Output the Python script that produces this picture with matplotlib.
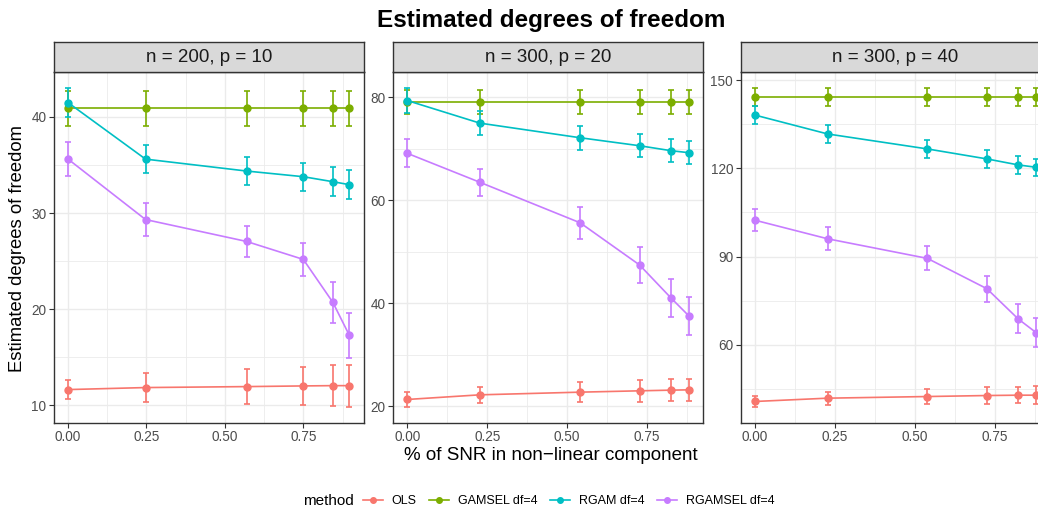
import numpy as np
import matplotlib
matplotlib.use('Agg')
import matplotlib.pyplot as plt
from matplotlib.lines import Line2D
from matplotlib.ticker import MultipleLocator

plt.rcParams['font.family'] = ['Liberation Sans', 'DejaVu Sans']

panels = ['n = 200, p = 10', 'n = 300, p = 20', 'n = 300, p = 40']
methods = ['OLS', 'GAMSEL df=4', 'RGAM df=4', 'RGAMSEL df=4']
colors = ['#F8766D', '#7CAE00', '#00BFC4', '#C77CFF']

# % of SNR in non-linear component, per panel
snr_p1 = [0.0, 0.247, 0.569, 0.75, 0.844, 0.897]
snr_p2 = [0.0, 0.227, 0.541, 0.727, 0.826, 0.881]
snr_p3 = [0.0, 0.228, 0.540, 0.726, 0.824, 0.880]

# estimated degrees of freedom (mean) and error bar half-widths
ols_p1 = [11.62, 11.83, 11.93, 12.0, 12.03, 12.03]
ols_p1_err = [1.0, 1.5, 1.8, 2.0, 2.1, 2.2]
gamsel_p1 = [40.9, 40.9, 40.9, 40.9, 40.9, 40.9]
gamsel_p1_err = [1.83, 1.83, 1.83, 1.83, 1.83, 1.83]
rgam_p1 = [41.49, 35.61, 34.37, 33.78, 33.26, 32.95]
rgam_p1_err = [1.5, 1.45, 1.45, 1.45, 1.49, 1.49]
rgamsel_p1 = [35.61, 29.32, 27.04, 25.17, 20.71, 17.25]
rgamsel_p1_err = [1.76, 1.75, 1.64, 1.73, 2.16, 2.38]

ols_p2 = [21.29, 22.19, 22.71, 22.97, 23.1, 23.16]
ols_p2_err = [1.42, 1.55, 2.0, 2.13, 2.16, 2.2]
gamsel_p2 = [79.1, 79.1, 79.1, 79.1, 79.1, 79.1]
gamsel_p2_err = [2.32, 2.32, 2.32, 2.32, 2.32, 2.32]
rgam_p2 = [79.35, 74.97, 72.13, 70.58, 69.61, 69.23]
rgam_p2_err = [2.4, 2.26, 2.29, 2.26, 2.26, 2.26]
rgamsel_p2 = [69.1, 63.48, 55.61, 47.42, 40.97, 37.55]
rgamsel_p2_err = [2.7, 2.65, 3.1, 3.58, 3.68, 3.7]

ols_p3 = [40.62, 41.75, 42.31, 42.65, 42.77, 42.77]
ols_p3_err = [1.8, 2.27, 2.55, 2.78, 2.83, 3.0]
gamsel_p3 = [144.33, 144.33, 144.33, 144.33, 144.33, 144.33]
gamsel_p3_err = [3.0, 3.0, 3.0, 3.0, 3.0, 3.0]
rgam_p3 = [138.2, 131.75, 126.65, 123.25, 121.21, 120.41]
rgam_p3_err = [3.0, 3.0, 3.0, 3.0, 2.95, 2.95]
rgamsel_p3 = [102.39, 96.04, 89.36, 79.04, 68.73, 64.08]
rgamsel_p3_err = [3.68, 3.9, 4.08, 4.42, 4.93, 5.04]

y_ticks = [[10, 20, 30, 40], [20, 40, 60, 80], [60, 90, 120, 150]]
x_ticks = [0.0, 0.25, 0.5, 0.75]

panel_x = [snr_p1, snr_p2, snr_p3]
panel_y = [
    [ols_p1, gamsel_p1, rgam_p1, rgamsel_p1],
    [ols_p2, gamsel_p2, rgam_p2, rgamsel_p2],
    [ols_p3, gamsel_p3, rgam_p3, rgamsel_p3],
]
panel_err = [
    [ols_p1_err, gamsel_p1_err, rgam_p1_err, rgamsel_p1_err],
    [ols_p2_err, gamsel_p2_err, rgam_p2_err, rgamsel_p2_err],
    [ols_p3_err, gamsel_p3_err, rgam_p3_err, rgamsel_p3_err],
]

W, H = 1038, 508
fig = plt.figure(figsize=(W / 100, H / 100), dpi=100)
fig.patch.set_facecolor('white')

lefts = [54, 393.3, 740.7]
pw = 309.5
top, bottom = 72.3, 422.7
strip_top = 41.7


def box(x0, y0, x1, y1):
    return [x0 / W, 1 - y1 / H, (x1 - x0) / W, (y1 - y0) / H]


for i in range(3):
    ax = fig.add_axes(box(lefts[i], top, lefts[i] + pw, bottom))
    xs = np.array(panel_x[i])
    lo, hi = [], []
    for j in range(4):
        y = np.array(panel_y[i][j])
        e = np.array(panel_err[i][j])
        lo.append((y - e).min())
        hi.append((y + e).max())
        ax.errorbar(xs, y, yerr=e, color=colors[j], marker='o', markersize=5,
                    linewidth=1.2, elinewidth=1.2, capsize=2.2, capthick=1.2,
                    zorder=3)
    ymin, ymax = min(lo), max(hi)
    yr = ymax - ymin
    ax.set_ylim(ymin - 0.05 * yr, ymax + 0.05 * yr)
    xr = xs.max() - xs.min()
    ax.set_xlim(xs.min() - 0.05 * xr, xs.max() + 0.05 * xr)

    ax.set_xticks(x_ticks)
    ax.set_xticklabels(['0.00', '0.25', '0.50', '0.75'])
    ax.xaxis.set_minor_locator(MultipleLocator(0.125))
    ax.set_yticks(y_ticks[i])
    step = y_ticks[i][1] - y_ticks[i][0]
    ax.yaxis.set_minor_locator(MultipleLocator(step / 2))
    ax.grid(True, which='major', color='#EBEBEB', linewidth=1.0, zorder=0)
    ax.grid(True, which='minor', color='#EBEBEB', linewidth=0.6, zorder=0)
    ax.set_axisbelow(True)
    ax.tick_params(which='major', length=3.5, width=0.8, color='#333333',
                   labelsize=9.8, labelcolor='#4D4D4D', pad=2)
    ax.tick_params(which='minor', length=0)
    for s in ax.spines.values():
        s.set_color('#333333')
        s.set_linewidth(1.0)

    sax = fig.add_axes(box(lefts[i], strip_top, lefts[i] + pw, top))
    sax.set_facecolor('#D9D9D9')
    sax.set_xticks([])
    sax.set_yticks([])
    for s in sax.spines.values():
        s.set_color('#333333')
        s.set_linewidth(1.0)
    sax.text(0.5, 0.47, panels[i], ha='center', va='center', fontsize=13.5,
             color='#1A1A1A', transform=sax.transAxes)

fig.text(551.5 / W, 1 - 20 / H, 'Estimated degrees of freedom', ha='center',
         va='center', fontsize=17.5, fontweight='bold')
fig.text(18 / W, 1 - 248 / H, 'Estimated degrees of freedom', ha='center',
         va='center', rotation=90, fontsize=13.3)
fig.text(551 / W, 1 - 455 / H, '% of SNR in non\u2212linear component',
         ha='center', va='center', fontsize=13.5)

fig.text(303 / W, 1 - 501 / H, 'method', ha='left', va='center', fontsize=11)
handles = [Line2D([], [], color=c, marker='o', markersize=4, linewidth=1.2)
           for c in colors]
fig.legend(handles, methods, loc='center left', ncol=4,
           bbox_to_anchor=(363 / W, 1 - 501 / H), frameon=False, fontsize=9,
           handlelength=1.6, handletextpad=0.7, columnspacing=1.0,
           borderaxespad=0, borderpad=0)

fig.savefig('out.png', dpi=100)
